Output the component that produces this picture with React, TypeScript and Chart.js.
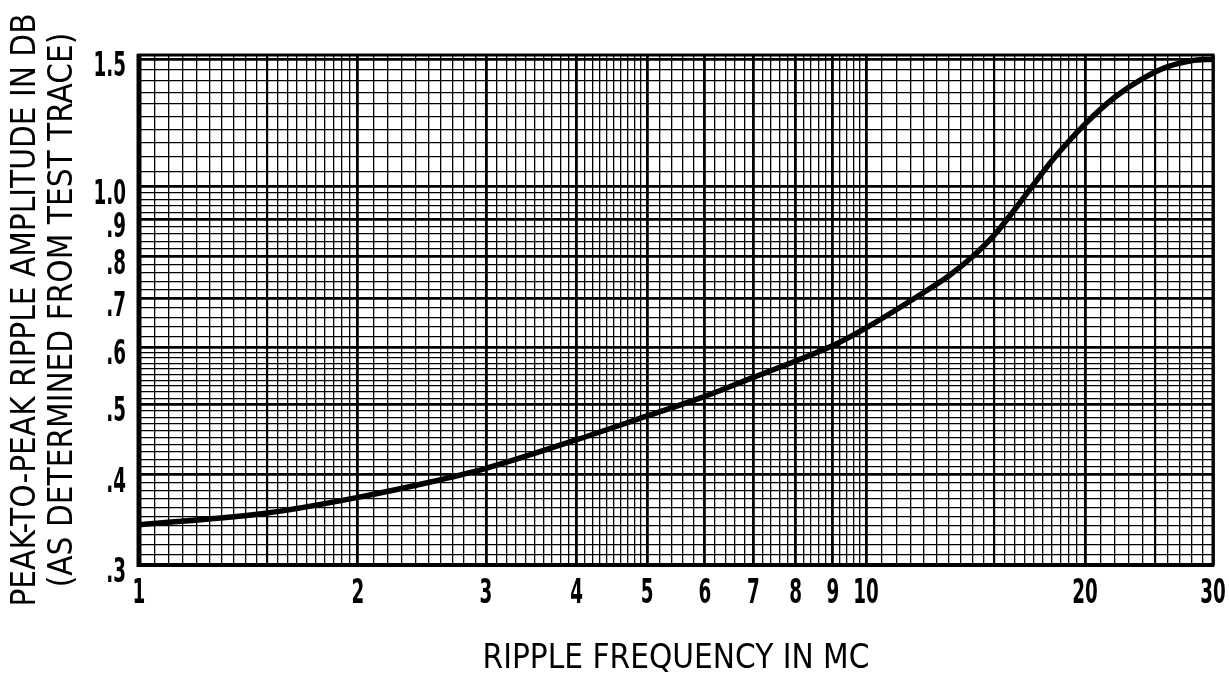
import React, { useEffect, useRef } from 'react';
import { Chart, registerables } from 'chart.js';

Chart.register(...registerables);

// ---- data ----
const frequencyMC = [1, 1.5, 2, 2.5, 3, 4, 5, 6, 7, 8, 9, 10, 12, 13, 14, 15, 16, 17, 18, 20, 22, 24, 26, 28, 30];
const rippleDB = [0.341, 0.354, 0.372, 0.39, 0.408, 0.447, 0.482, 0.513, 0.545, 0.574, 0.603, 0.638, 0.714, 0.753, 0.80, 0.857, 0.929, 1.007, 1.085, 1.22, 1.33, 1.41, 1.465, 1.492, 1.5];

// ---- axis tick labels ----
const xTickValues = [1, 2, 3, 4, 5, 6, 7, 8, 9, 10, 20, 30];
const xTickLabels = ['1', '2', '3', '4', '5', '6', '7', '8', '9', '10', '20', '30'];
const yTickValues = [0.3, 0.4, 0.5, 0.6, 0.7, 0.8, 0.9, 1.0, 1.5];
const yTickLabels = ['.3', '.4', '.5', '.6', '.7', '.8', '.9', '1.0', '1.5'];

// ---- graph-paper rulings: [from, to, step] ----
const xRulings = [[1, 2, 0.05], [2, 5, 0.1], [5, 10, 0.2], [10, 20, 0.5], [20, 30, 1]];
const yRulings = [[0.3, 0.6, 0.01], [0.6, 1.0, 0.02], [1.0, 1.5, 0.05]];
const xMediumRulings = [1.5, 15, 25];
const yMediumRulings: number[] = [];

const xTitle = 'RIPPLE FREQUENCY IN MC';
const yTitle = ['PEAK-TO-PEAK RIPPLE AMPLITUDE IN DB', '(AS DETERMINED FROM TEST TRACE)'];

const FONT = "'DejaVu Sans Condensed', 'DejaVu Sans', sans-serif";

function buildRulings(spec: number[][]): number[] {
  const out: number[] = [];
  spec.forEach(([a, b, s]) => {
    const n = Math.round((b - a) / s);
    for (let i = 0; i <= n; i++) {
      const v = Math.round((a + i * s) * 10000) / 10000;
      if (!out.some((o) => Math.abs(o - v) < 1e-9)) out.push(v);
    }
  });
  return out.sort((p, q) => p - q);
}

const near = (list: number[], v: number) => list.findIndex((t) => Math.abs(t - v) < 1e-6);

const framePlugin = {
  id: 'paperFrame',
  beforeDatasetsDraw(chart: any) {
    const { ctx, chartArea } = chart;
    const { left, right, top, bottom } = chartArea;
    ctx.save();
    ctx.strokeStyle = '#000';
    ctx.lineWidth = 3;
    ctx.strokeRect(left, top, right - left, bottom - top);
    ctx.lineWidth = 5;
    ctx.beginPath();
    ctx.moveTo(left, top - 1);
    ctx.lineTo(left, bottom + 2);
    ctx.stroke();
    ctx.lineWidth = 4;
    ctx.beginPath();
    ctx.moveTo(left, bottom);
    ctx.lineTo(right + 1, bottom);
    ctx.stroke();
    ctx.restore();
  },
};

// tick labels in the tall, condensed lettering of the original, placed by the chart's scales
const tickLabelPlugin = {
  id: 'tallTickLabels',
  afterDraw(chart: any) {
    const { ctx } = chart;
    const xs = chart.scales.x;
    const ys = chart.scales.y;
    const squeeze = 0.6;
    ctx.save();
    ctx.fillStyle = '#000';
    ctx.font = `bold 34px ${FONT}`;
    ctx.textBaseline = 'alphabetic';
    xTickValues.forEach((v, i) => {
      const px = xs.getPixelForValue(v);
      ctx.save();
      ctx.translate(px, xs.top + 38);
      ctx.scale(squeeze, 1);
      ctx.textAlign = 'center';
      ctx.fillText(xTickLabels[i], 0, 0);
      ctx.restore();
    });
    yTickValues.forEach((v, i) => {
      const py = ys.getPixelForValue(v);
      ctx.save();
      ctx.translate(ys.right - 13, py + 17);
      ctx.scale(squeeze, 1);
      ctx.textAlign = 'right';
      ctx.fillText(yTickLabels[i], 0, 0);
      ctx.restore();
    });
    ctx.restore();
  },
};

export default function App() {
  const ref = useRef<HTMLCanvasElement | null>(null);

  useEffect(() => {
    if (!ref.current) return;
    const xGrid = buildRulings(xRulings);
    const yGrid = buildRulings(yRulings);

    const gridWidth = (major: number[], medium: number[]) => (c: any) => {
      const v = c.tick ? c.tick.value : NaN;
      if (near(major, v) >= 0) return 2.8;
      if (near(medium, v) >= 0) return 2.2;
      return 1.3;
    };

    const chart = new Chart(ref.current, {
      type: 'line',
      data: {
        datasets: [
          {
            data: frequencyMC.map((x, i) => ({ x, y: rippleDB[i] })),
            borderColor: '#000',
            borderWidth: 5.5,
            pointRadius: 0,
            fill: false,
            cubicInterpolationMode: 'monotone',
            borderCapStyle: 'round',
          },
        ],
      },
      options: {
        responsive: false,
        animation: false,
        devicePixelRatio: 1,
        layout: { padding: { left: 0, right: 16, top: 55, bottom: 0 } },
        plugins: { legend: { display: false }, tooltip: { enabled: false } },
        scales: {
          x: {
            type: 'logarithmic',
            min: 1,
            max: 30,
            afterBuildTicks: (scale: any) => {
              scale.ticks = xGrid.map((value) => ({ value }));
            },
            afterFit: (scale: any) => {
              scale.height = 118;
            },
            border: { display: false },
            grid: {
              color: '#000',
              lineWidth: gridWidth(xTickValues, xMediumRulings),
              drawTicks: false,
            },
            ticks: { display: false, autoSkip: false, maxRotation: 0 },
            title: {
              display: true,
              text: xTitle,
              color: '#000',
              font: { family: FONT, size: 33, weight: 'normal', lineHeight: 1.2 },
              padding: { top: 0, bottom: 4 },
            },
          },
          y: {
            type: 'logarithmic',
            min: 0.3,
            max: 1.52,
            afterBuildTicks: (scale: any) => {
              scale.ticks = yGrid.map((value) => ({ value }));
            },
            afterFit: (scale: any) => {
              scale.width = 139;
            },
            border: { display: false },
            grid: {
              color: '#000',
              lineWidth: gridWidth(yTickValues, yMediumRulings),
              drawTicks: false,
            },
            ticks: { display: false, autoSkip: false },
            title: {
              display: true,
              text: yTitle,
              color: '#000',
              font: { family: FONT, size: 33, weight: 'normal', lineHeight: 1.12 },
              padding: { top: 8, bottom: 0 },
            },
          },
        },
      },
      plugins: [framePlugin, tickLabelPlugin],
    } as any);

    return () => chart.destroy();
  }, []);

  return (
    <div style={{ position: 'absolute', left: 0, top: 0, width: 1229, height: 683, background: '#fff' }}>
      <canvas ref={ref} width={1229} height={683} />
    </div>
  );
}
